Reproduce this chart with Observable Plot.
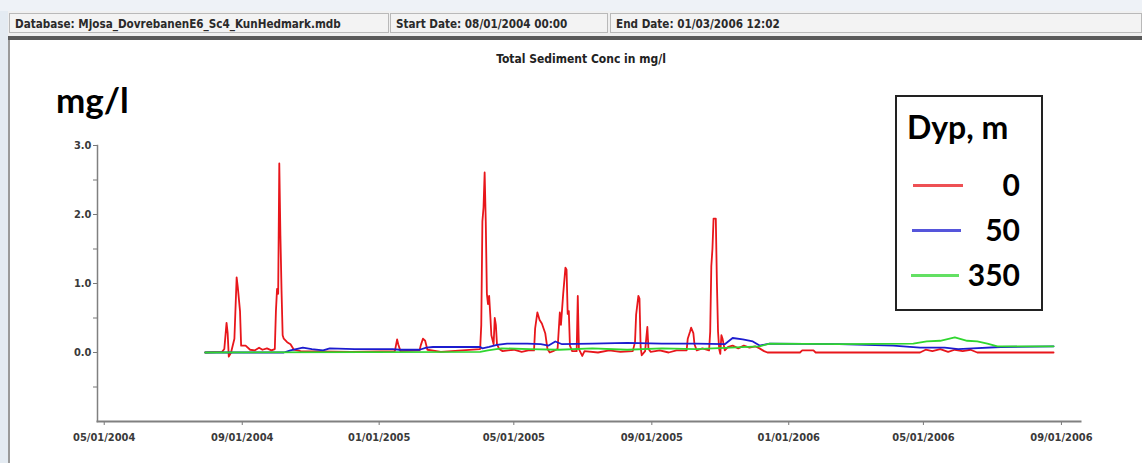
<!DOCTYPE html>
<html>
<head>
<meta charset="utf-8">
<script src="https://cdn.jsdelivr.net/npm/d3@7"></script>
<script src="https://cdn.jsdelivr.net/npm/@observablehq/plot@0.6"></script>
<style>
  html, body { margin: 0; padding: 0; background: #fff; width: 1142px; height: 463px; overflow: hidden; position: relative; }
  .abs { position: absolute; }
  #topstrip { left: 0; top: 0; width: 1142px; height: 11px; background: #eef2f7; }
  #header { left: 8px; top: 11px; width: 1134px; height: 25px; background: #f0f0f0; }
  .cell { position: absolute; top: 2px; height: 20px; border: 1px solid #b9b9b9; background: #f3f3f3;
          font-family: "DejaVu Sans Condensed", "DejaVu Sans", sans-serif; font-weight: bold; font-size: 11.6px;
          color: #2a2a2a; line-height: 20px; padding-left: 5px; box-sizing: border-box; white-space: nowrap; }
  #darkline { left: 8px; top: 36px; width: 1134px; height: 4px; background: #5a5a5a; }
  #leftstrip { left: 0; top: 11px; width: 8px; height: 452px; background: #e4ebf2; }
  #leftline { left: 8px; top: 40px; width: 2px; height: 423px; background: #9a9a9a; }
  #title { left: 0; width: 1162px; top: 52px; text-align: center; font-family: "DejaVu Sans Condensed", sans-serif;
           font-weight: bold; font-size: 12px; color: #222; }
  #unit { left: 56px; top: 78px; font-family: Lato, sans-serif; font-weight: bold; font-size: 35px; color: #000; }
  #legend { left: 895px; top: 95px; width: 148px; height: 216px; border: 2px solid #222; box-sizing: border-box; background: #fff;
            font-family: Lato, sans-serif; font-weight: bold; color: #000; }
  #legend .lt { position: absolute; left: 10px; top: 10px; font-size: 32px; }
  #legend .row { position: absolute; left: 0; width: 146px; height: 30px; }
  #legend .sw { position: absolute; top: 14px; height: 3px; }
  #legend .lab { position: absolute; right: 23px; top: -4px; font-size: 30px; }
</style>
</head>
<body>
<div id="topstrip" class="abs"></div>
<div id="leftstrip" class="abs"></div>
<div id="chart" class="abs" style="left:0;top:0;"></div>
<div id="header" class="abs"></div>
<div id="darkline" class="abs"></div>
<div id="leftline" class="abs"></div>
<div id="title" class="abs"></div>
<div id="unit" class="abs"></div>
<div id="legend" class="abs"></div>
<script>
// ---- texts ----
const headerTexts = ["Database: Mjosa_DovrebanenE6_Sc4_KunHedmark.mdb", "Start Date: 08/01/2004 00:00", "End Date: 01/03/2006 12:02"];
const chartTitle = "Total Sediment Conc in mg/l";
const unitLabel = "mg/l";
const legendTitle = "Dyp, m";
const depths = ["0", "50", "350"];
const colors = ["#e8161b", "#1c1ccf", "#2fd62f"];

// ---- axis ticks ----
const xTicks = ["2004-05-01", "2004-09-01", "2005-01-01", "2005-05-01", "2005-09-01", "2006-01-01", "2006-05-01", "2006-09-01"];
const yTicks = [-0.5, 0, 0.5, 1, 1.5, 2, 2.5, 3];
const yLabels = [0, 1, 2, 3];
const xDomain = ["2004-04-25", "2006-09-18"];
const yDomain = [-1, 3];

// ---- series (date, mg/l) ----
const depth0 = [
  ["2004-07-30",0.0],["2004-08-14",0.01],["2004-08-16",0.05],["2004-08-18",0.43],["2004-08-19",0.28],["2004-08-20",-0.06],
  ["2004-08-22",0.0],["2004-08-25",0.2],["2004-08-27",1.09],["2004-08-28",0.95],["2004-08-30",0.6],["2004-08-31",0.1],
  ["2004-09-04",0.1],["2004-09-08",0.04],["2004-09-12",0.03],["2004-09-16",0.07],["2004-09-19",0.04],["2004-09-23",0.06],
  ["2004-09-27",0.03],["2004-09-30",0.05],["2004-10-01",0.6],["2004-10-02",0.92],["2004-10-03",0.85],["2004-10-04",2.74],
  ["2004-10-05",1.7],["2004-10-06",0.9],["2004-10-07",0.25],["2004-10-08",0.2],["2004-10-11",0.15],["2004-10-14",0.12],
  ["2004-10-17",0.04],["2004-10-23",0.02],["2004-12-07",0.01],["2005-01-15",0.02],["2005-01-17",0.19],["2005-01-18",0.12],
  ["2005-01-20",0.02],["2005-02-06",0.03],["2005-02-07",0.1],["2005-02-09",0.2],["2005-02-11",0.17],["2005-02-13",0.04],
  ["2005-02-25",0.01],["2005-04-01",0.05],["2005-04-02",0.4],["2005-04-03",1.9],["2005-04-04",2.1],["2005-04-05",2.61],
  ["2005-04-06",1.9],["2005-04-07",0.85],["2005-04-08",0.7],["2005-04-09",0.82],["2005-04-10",0.55],["2005-04-11",0.25],
  ["2005-04-13",0.12],["2005-04-14",0.5],["2005-04-15",0.4],["2005-04-16",0.12],["2005-04-18",0.05],["2005-04-21",0.02],
  ["2005-05-01",0.04],["2005-05-08",0.01],["2005-05-14",0.03],["2005-05-19",0.03],["2005-05-20",0.35],["2005-05-22",0.58],
  ["2005-05-24",0.47],["2005-05-26",0.42],["2005-05-29",0.28],["2005-05-31",0.05],["2005-06-02",0.0],["2005-06-05",0.02],
  ["2005-06-09",0.05],["2005-06-11",0.58],["2005-06-12",0.4],["2005-06-14",0.85],["2005-06-16",1.23],["2005-06-17",1.2],
  ["2005-06-18",0.56],["2005-06-19",0.6],["2005-06-20",0.1],["2005-06-22",0.02],["2005-06-26",0.02],["2005-06-27",0.82],
  ["2005-06-28",0.05],["2005-07-01",-0.05],["2005-07-03",0.02],["2005-07-15",0.0],["2005-07-25",0.03],["2005-08-04",0.01],
  ["2005-08-15",0.02],["2005-08-17",0.15],["2005-08-18",0.55],["2005-08-20",0.82],["2005-08-21",0.78],["2005-08-22",0.08],
  ["2005-08-23",-0.04],["2005-08-26",0.02],["2005-08-27",0.2],["2005-08-28",0.37],["2005-08-29",0.05],["2005-08-31",0.01],
  ["2005-09-08",0.03],["2005-09-16",0.0],["2005-09-23",0.03],["2005-10-02",0.03],["2005-10-03",0.2],["2005-10-05",0.3],
  ["2005-10-06",0.36],["2005-10-08",0.28],["2005-10-09",0.12],["2005-10-11",0.03],["2005-10-16",0.06],["2005-10-22",0.03],
  ["2005-10-23",0.3],["2005-10-24",1.25],["2005-10-25",1.5],["2005-10-26",1.94],["2005-10-28",1.94],["2005-10-29",1.0],
  ["2005-10-30",0.3],["2005-10-31",0.05],["2005-11-01",-0.02],["2005-11-02",0.25],["2005-11-03",0.2],["2005-11-05",0.03],
  ["2005-11-08",0.08],["2005-11-12",0.1],["2005-11-17",0.06],["2005-11-22",0.1],["2005-11-27",0.07],["2005-12-02",0.09],
  ["2005-12-06",0.06],["2005-12-10",0.02],["2005-12-13",0.0],["2006-01-11",0.0],["2006-01-13",0.03],["2006-01-23",0.03],
  ["2006-01-25",0.0],["2006-04-28",0.0],["2006-05-03",0.04],["2006-05-09",0.02],["2006-05-16",0.05],["2006-05-23",0.01],
  ["2006-05-29",0.04],["2006-06-05",0.02],["2006-06-12",0.04],["2006-06-18",0.0],["2006-08-25",0.0]
];
const depth50 = [
  ["2004-07-30",0.0],["2004-10-08",0.0],["2004-10-14",0.03],["2004-10-25",0.07],["2004-11-02",0.05],["2004-11-12",0.03],
  ["2004-11-18",0.06],["2004-12-10",0.05],["2005-01-13",0.05],["2005-01-19",0.04],["2005-02-06",0.04],["2005-02-12",0.07],
  ["2005-02-18",0.08],["2005-03-15",0.08],["2005-04-01",0.08],["2005-04-03",0.06],["2005-04-09",0.08],["2005-04-16",0.11],
  ["2005-04-25",0.13],["2005-05-13",0.13],["2005-05-25",0.12],["2005-06-01",0.1],["2005-06-07",0.16],["2005-06-13",0.12],
  ["2005-07-10",0.13],["2005-08-10",0.14],["2005-09-10",0.13],["2005-10-10",0.13],["2005-11-05",0.12],["2005-11-12",0.21],
  ["2005-11-21",0.19],["2005-11-30",0.16],["2005-12-06",0.1],["2005-12-15",0.13],["2006-02-15",0.12],["2006-04-04",0.1],
  ["2006-04-28",0.07],["2006-05-20",0.07],["2006-06-01",0.05],["2006-06-14",0.06],["2006-07-09",0.08],["2006-08-25",0.09]
];
const depth350 = [
  ["2004-07-30",0.0],["2005-04-01",0.01],["2005-04-08",0.03],["2005-04-20",0.06],["2005-05-15",0.05],["2005-06-10",0.04],
  ["2005-07-10",0.06],["2005-08-10",0.04],["2005-09-10",0.06],["2005-10-10",0.05],["2005-11-10",0.07],["2005-12-06",0.09],
  ["2005-12-15",0.13],["2006-02-15",0.12],["2006-04-22",0.13],["2006-05-04",0.16],["2006-05-16",0.17],["2006-05-29",0.22],
  ["2006-06-09",0.17],["2006-06-18",0.16],["2006-06-27",0.13],["2006-07-06",0.09],["2006-08-25",0.09]
];

const parse = d3.utcParse("%Y-%m-%d");
const seriesList = [depth0, depth50, depth350];
const rows = seriesList.flatMap((s, i) => s.map(([d, v]) => ({date: parse(d), value: v, depth: depths[i]})));

// header
const hdr = document.getElementById("header");
const cellX = [[1, 380], [382, 218], [602, 532]];
headerTexts.forEach((t, i) => {
  const c = document.createElement("div");
  c.className = "cell";
  c.style.left = cellX[i][0] + "px";
  c.style.width = cellX[i][1] + "px";
  c.textContent = t;
  hdr.appendChild(c);
});
document.getElementById("title").textContent = chartTitle;
document.getElementById("unit").textContent = unitLabel;

// legend
const lg = document.getElementById("legend");
const lt = document.createElement("div"); lt.className = "lt"; lt.textContent = legendTitle; lg.appendChild(lt);
const rowTops = [73, 118, 163];
const swX = [[16, 50], [15, 49], [14, 48]];
depths.forEach((d, i) => {
  const r = document.createElement("div"); r.className = "row"; r.style.top = rowTops[i] + "px";
  const sw = document.createElement("div"); sw.className = "sw";
  sw.style.left = swX[i][0] + "px"; sw.style.width = swX[i][1] + "px"; sw.style.background = colors[i]; sw.style.opacity = 0.75;
  const lab = document.createElement("div"); lab.className = "lab"; lab.textContent = d;
  r.appendChild(sw); r.appendChild(lab); lg.appendChild(r);
});

const fmt = d3.utcFormat("%m/%d/%Y");
const chart = Plot.plot({
  width: 1142,
  height: 463,
  marginLeft: 97,
  marginRight: 62,
  marginTop: 145,
  marginBottom: 42,
  style: {fontFamily: "'DejaVu Sans Condensed', sans-serif", fontSize: "11px", fontWeight: "bold", color: "#3a3a3a", background: "transparent"},
  x: {type: "utc", domain: xDomain.map(parse)},
  y: {domain: yDomain},
  color: {domain: depths, range: colors},
  marks: [
    Plot.axisX({ticks: xTicks.map(parse), tickFormat: fmt, tickSize: 4, tickPadding: 8, label: null, stroke: "#777"}),
    Plot.axisY({ticks: yTicks, tickFormat: d => yLabels.includes(d) ? d.toFixed(1) : "", tickSize: 4, tickPadding: 2, label: null, stroke: "#777"}),
    Plot.frame({anchor: "left", stroke: "#808080", strokeWidth: 1.5}),
    Plot.frame({anchor: "bottom", stroke: "#808080", strokeWidth: 2}),
    Plot.line(rows, {x: "date", y: "value", z: "depth", stroke: "depth", strokeWidth: 1.8, curve: "linear"})
  ]
});
document.getElementById("chart").appendChild(chart);
</script>
</body>
</html>
